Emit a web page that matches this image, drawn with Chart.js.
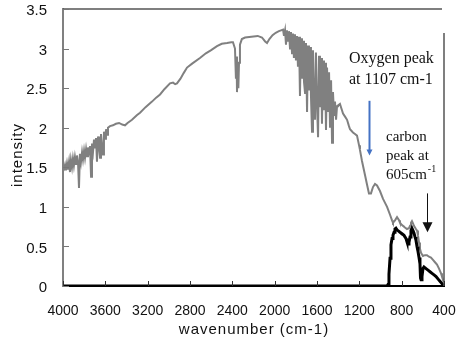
<!DOCTYPE html>
<html>
<head>
<meta charset="utf-8">
<script src="https://cdn.jsdelivr.net/npm/chart.js@4"></script>
<style>
  html, body { margin: 0; padding: 0; background: #fff; }
  #wrap { width: 460px; height: 346px; }
</style>
</head>
<body>
<div id="wrap"><canvas id="chart" width="460" height="346"></canvas></div>
<script>
// x ticks (wavenumber, reversed axis) and y ticks
const xTicks = [4000, 3600, 3200, 2800, 2400, 2000, 1600, 1200, 800, 400];
const xTickLabels = ["4000", "3600", "3200", "2800", "2400", "2000", "1600", "1200", "800", "400"];
const yTicks = [0, 0.5, 1, 1.5, 2, 2.5, 3, 3.5];
const yTickLabels = ["0", "0.5", "1", "1.5", "2", "2.5", "3", "3.5"];

// gray spectrum
const grayWavenumber = [
  4000, 3990, 3981, 3972, 3962, 3953, 3943, 3934, 3925, 3915, 3906, 3897, 3887, 3877, 3868, 3858,
  3849, 3840, 3830, 3820, 3811, 3801, 3792, 3782, 3773, 3764, 3754, 3745, 3735, 3726, 3716, 3707,
  3698, 3688, 3679, 3669, 3660, 3650, 3641, 3632, 3622, 3613, 3603, 3594, 3584, 3575, 3556, 3528,
  3500, 3470, 3440, 3414, 3390, 3348, 3300, 3272, 3220, 3159, 3120, 3083, 3040, 2989, 2960, 2940,
  2923, 2890, 2860, 2828, 2780, 2706, 2650, 2600, 2545, 2500, 2450, 2410, 2394, 2375, 2366, 2360,
  2356, 2350, 2343, 2337, 2328, 2310, 2280, 2220, 2160, 2120, 2090, 2072, 2050, 2020, 1990, 1960,
  1940, 1921, 1912, 1902, 1893, 1884, 1874, 1865, 1855, 1846, 1836, 1827, 1818, 1808, 1799, 1789,
  1780, 1770, 1761, 1751, 1742, 1732, 1723, 1713, 1704, 1694, 1685, 1676, 1666, 1657, 1647, 1638,
  1628, 1619, 1610, 1600, 1590, 1581, 1572, 1562, 1553, 1543, 1534, 1524, 1515, 1505, 1496, 1486,
  1477, 1467, 1458, 1449, 1439, 1430, 1420, 1411, 1402, 1383, 1364, 1354, 1335, 1316, 1298, 1288,
  1260, 1241, 1222, 1203, 1194, 1175, 1146, 1127, 1109, 1090, 1071, 1052, 1033, 1005, 976, 957,
  938, 910, 891, 882, 863, 844, 825, 816, 797, 778, 769, 750, 731, 721, 712, 703,
  693, 684, 665, 655, 646, 636, 627, 617, 599, 580, 561, 542, 523, 504, 485, 466,
  447, 428, 419, 409, 400
];
const grayIntensity = [
  1.50, 1.48, 1.53, 1.46, 1.55, 1.47, 1.57, 1.44, 1.59, 1.50, 1.61, 1.52, 1.63, 1.54, 1.65, 1.56,
  1.24, 1.67, 1.57, 1.69, 1.60, 1.71, 1.62, 1.73, 1.64, 1.75, 1.66, 1.77, 1.38, 1.80, 1.70, 1.85,
  1.74, 1.87, 1.57, 1.89, 1.77, 1.62, 1.92, 1.81, 1.66, 1.95, 1.86, 1.98, 1.91, 2.00, 2.02, 2.03,
  2.05, 2.06, 2.04, 2.03, 2.06, 2.10, 2.16, 2.19, 2.26, 2.33, 2.38, 2.42, 2.49, 2.56, 2.57, 2.55,
  2.56, 2.62, 2.69, 2.76, 2.81, 2.88, 2.94, 2.98, 3.03, 3.06, 3.07, 3.08, 3.08, 3.00, 2.62, 2.90,
  2.45, 2.75, 2.50, 2.82, 3.05, 3.12, 3.14, 3.15, 3.16, 3.14, 3.09, 3.07, 3.12, 3.17, 3.20, 3.22,
  3.23, 3.24, 3.16, 3.23, 3.05, 3.23, 3.10, 3.22, 3.00, 3.21, 2.94, 3.19, 2.88, 3.18, 2.85, 3.16,
  2.77, 3.15, 2.40, 3.13, 2.62, 3.10, 2.58, 2.44, 3.07, 2.20, 3.04, 2.47, 3.02, 2.40, 1.95, 2.98,
  2.34, 2.10, 2.95, 2.30, 1.88, 2.91, 2.26, 2.88, 2.05, 2.85, 2.22, 2.82, 1.97, 2.76, 2.20, 2.70,
  2.00, 2.60, 1.81, 2.45, 2.16, 2.33, 2.10, 2.27, 2.28, 2.30, 2.22, 2.18, 2.14, 2.10, 2.02, 1.98,
  1.94, 1.92, 1.90, 1.78, 1.72, 1.58, 1.40, 1.28, 1.17, 1.17, 1.25, 1.29, 1.27, 1.20, 1.10, 1.05,
  1.00, 0.90, 0.83, 0.80, 0.83, 0.87, 0.83, 0.80, 0.77, 0.75, 0.74, 0.72, 0.73, 0.76, 0.80, 0.82,
  0.79, 0.76, 0.72, 0.70, 0.64, 0.55, 0.47, 0.42, 0.38, 0.39, 0.39, 0.37, 0.36, 0.33, 0.30, 0.27,
  0.22, 0.16, 0.12, 0.08, 0.05
];

// black (carbon) spectrum
const blackWavenumber = [
  4000, 938, 929, 920, 910, 901, 891, 882, 872, 863, 854, 844, 835, 825, 816, 797,
  778, 759, 750, 740, 731, 721, 712, 703, 693, 684, 674, 665, 655, 646, 636, 627,
  622, 617, 608, 599, 589, 580, 570, 551, 532, 513, 494, 475, 457, 438, 419, 400
];
const blackIntensity = [
  0, 0, 0.02, 0.15, 0.35, 0.52, 0.60, 0.64, 0.68, 0.72, 0.73, 0.71, 0.70, 0.69, 0.68, 0.66,
  0.64, 0.60, 0.56, 0.53, 0.55, 0.62, 0.70, 0.73, 0.70, 0.67, 0.62, 0.58, 0.50, 0.44, 0.36, 0.28,
  0.10, 0.08, 0.12, 0.22, 0.24, 0.23, 0.22, 0.20, 0.18, 0.16, 0.14, 0.12, 0.09, 0.06, 0.03, 0
];

const toPoints = (xs, ys) => xs.map((x, i) => ({ x: x, y: ys[i] }));

const decorations = {
  id: "decorations",
  afterDraw(chart) {
    const { ctx, chartArea: area } = chart;
    const xs = chart.scales.x;
    const ys = chart.scales.y;
    ctx.save();

    // top and right frame lines
    ctx.strokeStyle = "#555";
    ctx.lineWidth = 1.5;
    ctx.beginPath();
    ctx.moveTo(area.left, area.top);
    ctx.lineTo(area.right - 2, area.top);
    ctx.moveTo(area.right, area.top + 24);
    ctx.lineTo(area.right, area.bottom);
    ctx.stroke();

    // tick marks pointing inward
    ctx.lineWidth = 1;
    ctx.strokeStyle = "#777";
    ctx.beginPath();
    yTicks.forEach((v) => {
      const py = Math.round(ys.getPixelForValue(v)) + 0.5;
      ctx.moveTo(area.left, py);
      ctx.lineTo(area.left + 6, py);
    });
    ctx.stroke();
    ctx.strokeStyle = "#333";
    ctx.beginPath();
    xTicks.forEach((v) => {
      const px = Math.round(xs.getPixelForValue(v)) + 0.5;
      ctx.moveTo(px, area.bottom);
      ctx.lineTo(px, area.bottom - 5);
    });
    ctx.stroke();

    // axis titles
    ctx.fillStyle = "#111";
    ctx.font = "15px 'Liberation Sans', Arial, sans-serif";
    ctx.letterSpacing = "1px";
    ctx.textAlign = "center";
    ctx.textBaseline = "middle";
    ctx.fillText("wavenumber (cm-1)", 254, 330);
    ctx.save();
    ctx.translate(18, 155);
    ctx.rotate(-Math.PI / 2);
    ctx.fillText("intensity", 0, 0);
    ctx.restore();
    ctx.letterSpacing = "0px";

    // annotations
    ctx.textAlign = "left";
    ctx.textBaseline = "alphabetic";
    ctx.font = "16px 'Liberation Serif', 'Times New Roman', serif";
    ctx.fillText("Oxygen peak", 349, 63);
    ctx.fillText("at 1107 cm-1", 349, 84);

    ctx.font = "15px 'Liberation Serif', 'Times New Roman', serif";
    ctx.fillText("carbon", 386, 141);
    ctx.fillText("peak at", 386, 160);
    ctx.fillText("605cm", 386, 179);
    const w = ctx.measureText("605cm").width;
    ctx.font = "10px 'Liberation Serif', 'Times New Roman', serif";
    ctx.fillText("-1", 386 + w + 1, 172);

    // oxygen arrow (blue)
    const ox = Math.round(xs.getPixelForValue(1107)) + 0.5;
    const oy1 = ys.getPixelForValue(2.34);
    const oy2 = ys.getPixelForValue(1.65);
    ctx.strokeStyle = "#4472c4";
    ctx.fillStyle = "#4472c4";
    ctx.lineWidth = 2;
    ctx.beginPath();
    ctx.moveTo(ox, oy1);
    ctx.lineTo(ox, oy2 - 5);
    ctx.stroke();
    ctx.beginPath();
    ctx.moveTo(ox - 3, oy2 - 6);
    ctx.lineTo(ox + 3, oy2 - 6);
    ctx.lineTo(ox, oy2);
    ctx.closePath();
    ctx.fill();

    // carbon arrow (black)
    const cx = Math.round(xs.getPixelForValue(560)) + 0.5;
    const cy1 = ys.getPixelForValue(1.17);
    const cy2 = ys.getPixelForValue(0.68);
    ctx.strokeStyle = "#111";
    ctx.fillStyle = "#111";
    ctx.lineWidth = 1;
    ctx.beginPath();
    ctx.moveTo(cx, cy1);
    ctx.lineTo(cx, cy2 - 8);
    ctx.stroke();
    ctx.beginPath();
    ctx.moveTo(cx - 5, cy2 - 10);
    ctx.lineTo(cx + 5, cy2 - 10);
    ctx.lineTo(cx, cy2);
    ctx.closePath();
    ctx.fill();

    ctx.restore();
  },
};

new Chart(document.getElementById("chart"), {
  type: "line",
  data: {
    datasets: [
      {
        label: "carbon",
        data: toPoints(blackWavenumber, blackIntensity),
        borderColor: "#000",
        borderWidth: 3,
        pointRadius: 0,
        order: 0,
      },
      {
        label: "spectrum",
        data: toPoints(grayWavenumber, grayIntensity),
        borderColor: "#808080",
        borderWidth: 2,
        pointRadius: 0,
        order: 1,
      },
    ],
  },
  options: {
    responsive: false,
    devicePixelRatio: 1,
    animation: false,
    layout: { padding: { top: 9, right: 16, left: 0, bottom: 0 } },
    plugins: {
      legend: { display: false },
      tooltip: { enabled: false },
    },
    scales: {
      x: {
        type: "linear",
        reverse: true,
        min: 400,
        max: 4000,
        afterBuildTicks: (scale) => {
          scale.ticks = xTicks.map((v) => ({ value: v }));
        },
        afterFit: (scale) => {
          scale.height = 60;
          scale.paddingLeft = 0;
          scale.paddingRight = 0;
        },
        grid: { display: false, drawTicks: false },
        border: { display: true, color: "#000", width: 2 },
        ticks: {
          autoSkip: false,
          maxRotation: 0,
          padding: 17,
          color: "#111",
          font: { family: "'Liberation Sans', Arial, sans-serif", size: 14 },
          callback: (value) => xTickLabels[xTicks.indexOf(value)],
        },
      },
      y: {
        min: 0,
        max: 3.5,
        afterBuildTicks: (scale) => {
          scale.ticks = yTicks.map((v) => ({ value: v }));
        },
        afterFit: (scale) => {
          scale.width = 63;
          scale.paddingTop = 0;
          scale.paddingBottom = 0;
        },
        grid: { display: false, drawTicks: false },
        border: { display: true, color: "#808080", width: 2 },
        ticks: {
          padding: 16,
          labelOffset: 2,
          color: "#111",
          font: { family: "'Liberation Sans', Arial, sans-serif", size: 15 },
          callback: (value) => yTickLabels[yTicks.indexOf(value)],
        },
      },
    },
  },
  plugins: [decorations],
});
</script>
</body>
</html>
